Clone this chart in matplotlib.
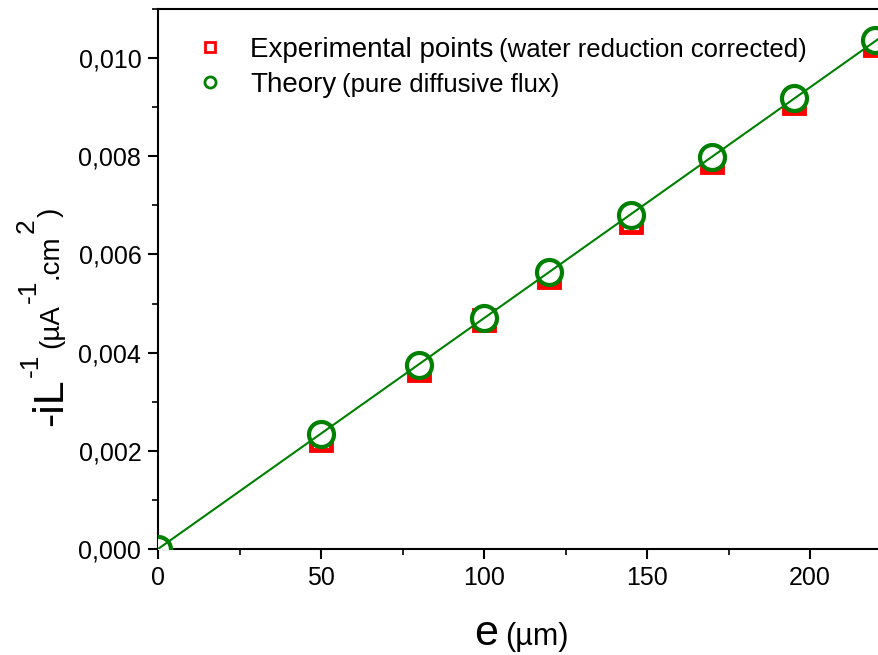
import numpy as np
import matplotlib
matplotlib.use("Agg")
import matplotlib.pyplot as plt
from matplotlib.lines import Line2D
from matplotlib.ticker import MultipleLocator, FuncFormatter

plt.rcParams['font.family'] = ['Liberation Sans', 'DejaVu Sans']

# data (e in µm, -iL^-1 in µA^-1.cm^2)
e_theory = [0, 50, 80, 100, 120, 145, 170, 195, 220]
il_theory = [0.0, 2.34e-3, 3.75e-3, 4.70e-3, 5.64e-3, 6.81e-3, 7.99e-3, 9.18e-3, 10.36e-3]
e_exp = [50, 80, 100, 120, 145, 170, 195, 220]
il_exp = [2.22e-3, 3.64e-3, 4.67e-3, 5.54e-3, 6.66e-3, 7.88e-3, 9.08e-3, 10.27e-3]

GREEN = "#008000"
RED = "#ff0000"
W, H = 879, 655

fig = plt.figure(figsize=(W / 100, H / 100), dpi=100)
ax = fig.add_axes([158 / W, 106 / H, 750 / W, 540 / H])

# linear fit through the origin of the theory points
xt = np.array(e_theory, dtype=float)
yt = np.array(il_theory)
slope = np.sum(xt * yt) / np.sum(xt * xt)
x_fit = np.array([0.0, 230.0])

ax.plot(e_exp, il_exp, ls="none", marker="s", ms=15, mfc="none", mec=RED, mew=3.5, zorder=2)
ax.plot(e_theory, il_theory, ls="none", marker="o", ms=18, mfc="white", mec=GREEN, mew=3, zorder=3)
ax.plot(x_fit, slope * x_fit, color=GREEN, lw=1.5, zorder=4)

ax.set_xlim(0, 230)
ax.set_ylim(0, 0.011)
ax.xaxis.set_major_locator(MultipleLocator(50))
ax.xaxis.set_minor_locator(MultipleLocator(25))
ax.yaxis.set_major_locator(MultipleLocator(0.002))
ax.yaxis.set_minor_locator(MultipleLocator(0.001))
ax.yaxis.set_major_formatter(FuncFormatter(lambda v, p: f"{v:.3f}".replace(".", ",")))
ax.xaxis.set_major_formatter(FuncFormatter(lambda v, p: f"{v:.0f}"))
ax.tick_params(which="major", direction="out", length=7, width=1.5, labelsize=18, pad=5)
ax.tick_params(which="minor", direction="out", length=4, width=1.2)
for s in ax.spines.values():
    s.set_linewidth(1.5)

renderer = fig.canvas.get_renderer()


def place_run(pieces, x0, y0, rotation=0):
    # pieces: (text, size, baseline shift px, gap px); x0/y0 in pixels from top-left
    pos = 0
    for text, size, shift, gap in pieces:
        pos += gap
        if rotation == 0:
            x, y = x0 + pos, y0 - shift
        else:
            x, y = x0 - shift, y0 - pos
        t = fig.text(x / W, 1 - y / H, text, fontsize=size, rotation=rotation,
                     rotation_mode="anchor", ha="left", va="baseline")
        bb = t.get_window_extent(renderer)
        pos += bb.width if rotation == 0 else bb.height


# axis labels
place_run([("e", 31, 0, 0), ("(µm)", 22, 0, 7)], 474, 645)
place_run([("-iL", 31, 0, 0), ("-1", 19, 24, 1), ("(µA", 20, 4, 6), ("-1", 19, 26, 1),
           (".cm", 20, 4, 1), ("2", 19, 28, 1), (")", 20, 4, 1)], 62, 426, rotation=90)

# legend
fig.add_artist(Line2D([210 / W], [1 - 47 / H], marker="s", ms=7, mfc="none", mec=RED,
                      mew=2, transform=fig.transFigure))
fig.add_artist(Line2D([210 / W], [1 - 82 / H], marker="o", ms=8, mfc="none", mec=GREEN,
                      mew=2, transform=fig.transFigure))
place_run([("Experimental points", 20, 0, 0), ("(water reduction corrected)", 18.5, 0, 6)], 250, 57)
place_run([("Theory", 20, 0, 0), ("(pure diffusive flux)", 18.5, 0, 6)], 250, 92)

fig.savefig("out.png", dpi=100)
